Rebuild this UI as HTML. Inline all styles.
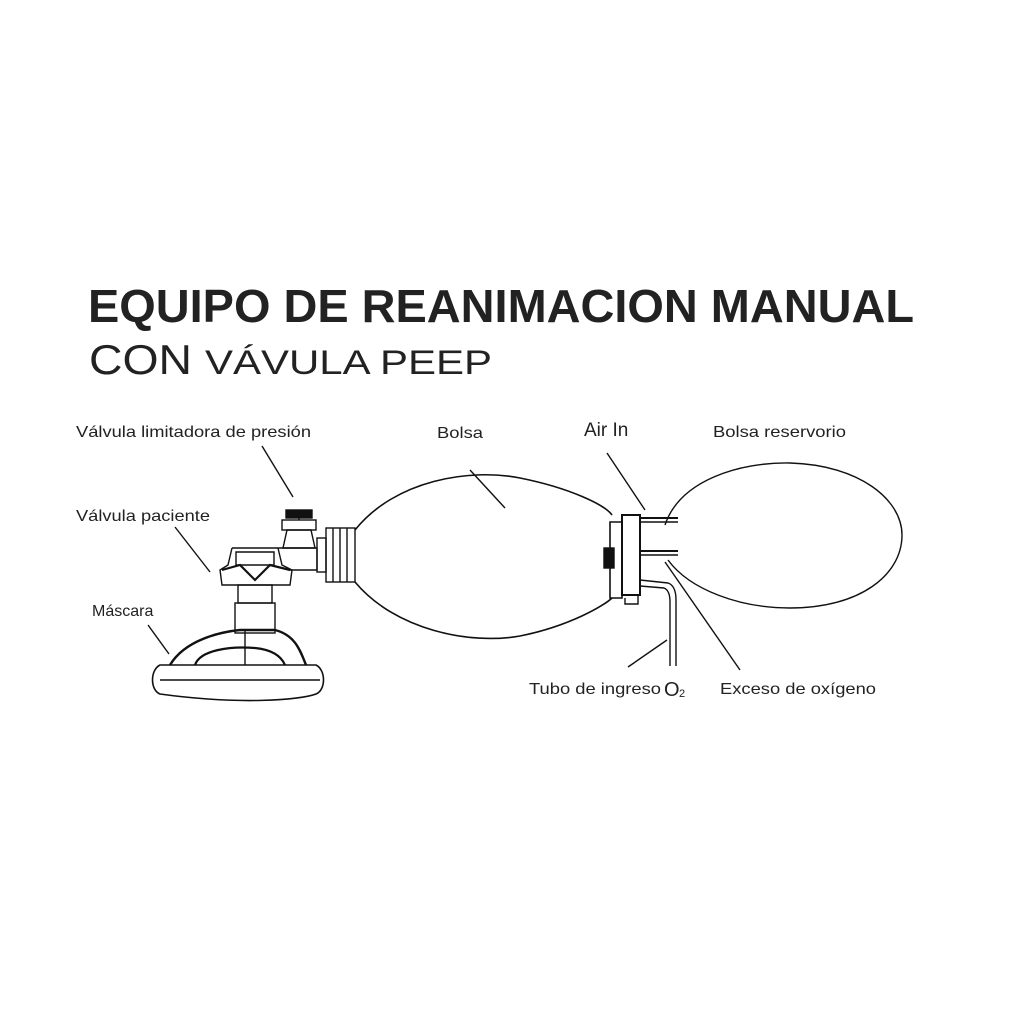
<!DOCTYPE html>
<html><head><meta charset="utf-8"><style>
html,body{margin:0;padding:0;background:#fff;}
svg{display:block;}
text{font-family:"Liberation Sans",sans-serif;fill:#222;}
</style></head><body>
<svg width="1024" height="1024" viewBox="0 0 1024 1024" xmlns="http://www.w3.org/2000/svg">
<rect width="1024" height="1024" fill="#fff"/>
<text x="88" y="322" font-size="46" font-weight="bold" textLength="826" lengthAdjust="spacingAndGlyphs" fill="#111">EQUIPO DE REANIMACION MANUAL</text>
<text x="89" y="374" font-size="42" textLength="103" lengthAdjust="spacingAndGlyphs" fill="#111">CON</text>
<text x="205" y="374" font-size="34" textLength="287" lengthAdjust="spacingAndGlyphs" fill="#111">VÁVULA PEEP</text>

<g font-size="16">
<text x="76" y="437" textLength="235" lengthAdjust="spacingAndGlyphs">Válvula limitadora de presión</text>
<text x="437" y="438" textLength="46" lengthAdjust="spacingAndGlyphs">Bolsa</text>
<text x="584" y="436" font-size="19">Air In</text>
<text x="713" y="437" textLength="133" lengthAdjust="spacingAndGlyphs">Bolsa reservorio</text>
<text x="76" y="521" textLength="134" lengthAdjust="spacingAndGlyphs">Válvula paciente</text>
<text x="92" y="616">Máscara</text>
<text x="529" y="694" textLength="132" lengthAdjust="spacingAndGlyphs">Tubo de ingreso</text>
<text x="664" y="696" font-size="20">O</text>
<text x="679" y="697" font-size="11">2</text>
<text x="720" y="694" textLength="156" lengthAdjust="spacingAndGlyphs">Exceso de oxígeno</text>
</g>

<g stroke="#111" fill="none" stroke-width="1.4">
<line x1="262" y1="446" x2="293" y2="497"/>
<line x1="175" y1="527" x2="210" y2="572"/>
<line x1="148" y1="625" x2="169" y2="654"/>
<line x1="470" y1="470" x2="505" y2="508"/>
<line x1="607" y1="453" x2="645" y2="510"/>
<line x1="628" y1="667" x2="667" y2="640"/>
<line x1="740" y1="670" x2="665" y2="562"/>
<path d="M355 530 C395 480 470 468 520 478 C570 488 605 505 612 515 M355 582 C395 630 470 645 520 636 C570 626 605 605 612 598" stroke-width="1.6"/>
<path d="M665 525 C680 480 740 462 790 463 C860 465 902 500 902 535 C902 575 860 608 790 608 C740 608 690 590 668 560" stroke-width="1.4"/>
<rect x="326" y="528" width="29" height="54"/>
<line x1="333" y1="528" x2="333" y2="582"/><line x1="340" y1="528" x2="340" y2="582"/><line x1="347" y1="528" x2="347" y2="582"/>
<rect x="317" y="538" width="9" height="34"/>
<path d="M283 548 L287 530 L311 530 L315 548 Z"/>
<rect x="282" y="520" width="34" height="10"/>
<rect x="286" y="510" width="26" height="8" fill="#111"/>
<line x1="299" y1="518" x2="299" y2="520"/>
<path d="M232 548 L317 548 L317 570 L289 570"/>
<path d="M232 548 L228 565 L220 570 L222 585 L290 585 L292 570 L282 565 L278 548"/>
<path d="M236 552 L274 552 L274 565 L236 565 Z"/>
<path d="M222 570 L240 565 L255 580 L270 565 L290 570" stroke-width="2.2"/>
<rect x="238" y="585" width="34" height="18"/>
<rect x="235" y="603" width="40" height="30"/>
<path d="M170 665 C185 640 220 632 240 630 L275 630 C295 635 300 650 306 665" stroke-width="2.4"/>
<path d="M195 665 C200 650 230 646 255 648 C275 650 282 658 285 665" stroke-width="2.2"/>
<path d="M160 665 L316 665 C326 670 326 690 316 694 C300 700 240 705 160 694 C150 690 150 670 160 665 Z" stroke-width="1.6"/>
<line x1="160" y1="680" x2="320" y2="680"/>
<line x1="245" y1="630" x2="245" y2="665"/>
<path d="M622 515 L640 515 L640 595 L622 595 Z" stroke-width="2"/>
<path d="M610 522 L622 522 L622 598 L610 598 Z" stroke-width="1.6"/>
<rect x="604" y="548" width="10" height="20" fill="#111"/>
<line x1="640" y1="518" x2="678" y2="518" stroke-width="2"/>
<line x1="640" y1="522" x2="678" y2="522"/>
<line x1="640" y1="551" x2="678" y2="551" stroke-width="2"/>
<line x1="640" y1="555" x2="678" y2="555"/>
<path d="M640 580 L668 583 C674 585 676 592 676 600 L676 666" stroke-width="1.4"/>
<path d="M640 586 L664 588 C669 590 670 596 670 602 L670 666" stroke-width="1.4"/>
<path d="M625 598 L625 604 L638 604 L638 595"/>
</g>
</svg>
</body></html>
